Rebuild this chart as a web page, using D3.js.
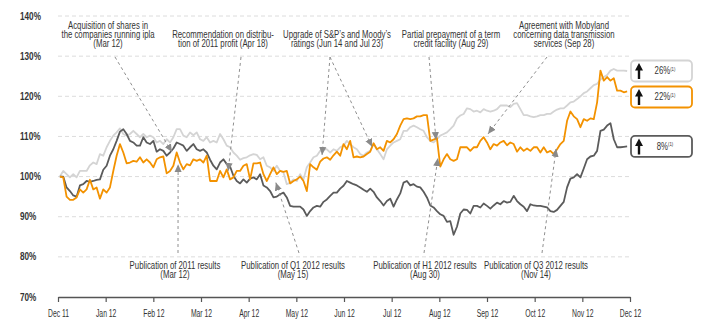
<!DOCTYPE html>
<html>
<head>
<meta charset="utf-8">
<script src="https://cdn.jsdelivr.net/npm/d3@7"></script>
<style>
  body { margin: 0; background: #fff; }
  svg text { font-family: "Liberation Sans", Arial, sans-serif; fill: #333; }
</style>
</head>
<body>
<svg width="707" height="333"></svg>
<script>
const monthLabels = ['Dec 11', 'Jan 12', 'Feb 12', 'Mar 12', 'Apr 12', 'May 12', 'Jun 12',
  'Jul 12', 'Aug 12', 'Sep 12', 'Oct 12', 'Nov 12', 'Dec 12'];
const yTicks = [70, 80, 90, 100, 110, 120, 130, 140];

// sampling: first point and step, in months after Dec 11
const startMonth = 0.04;
const stepMonth = 0.07;

// light gray series (index, 100 = start)
const wigValues = [
  100, 101.4, 100.6, 99.8, 100.6, 99.8, 101.4, 101.4, 101.4, 102.8,
  103.5, 103.1, 105.6, 105.2, 107.3, 108.9, 110.2, 111, 112, 110.6,
  110.2, 110.6, 111.4, 110.6, 109.8, 110.6, 109.8, 110.2, 109.8, 108.5,
  108.9, 108.1, 109.3, 108.5, 109.8, 111.8, 111.8, 110.2, 109.8, 111,
  110.3, 111, 109.3, 108.9, 109.8, 108.5, 108.9, 108.5, 110.6, 109.3,
  107.7, 107.3, 106, 105.2, 104.2, 104.6, 104.8, 105.3, 105.6, 105.4,
  104.3, 104.8, 102.7, 102.3, 101.4, 102.7, 101.4, 101, 98.1, 98.5,
  99.3, 98.9, 100.6, 99.3, 102.3, 103.5, 104.8, 105.2, 106.4, 106.8,
  106.8, 106, 106.8, 106.4, 107.3, 107.7, 108.9, 108.1, 107.3, 106.8,
  105.6, 105.2, 106, 106.4, 108.1, 106.8, 105.6, 104.3, 106.8, 107.7,
  108.5, 108.9, 109.3, 111.4, 111.4, 112.3, 112.7, 112.3, 111.8, 111.4,
  109.8, 108.9, 108.5, 109.3, 110.2, 110.6, 111, 111.8, 112.7, 114.5,
  115.2, 115.6, 117, 116.8, 116.2, 116.4, 116, 116.8, 116.4, 116.2,
  116.4, 116.8, 117.7, 117.7, 117.7, 117.3, 118.1, 118.3, 116.8, 115.3,
  115.3, 115, 114.8, 115, 115.3, 115.3, 115.6, 115.6, 116.2, 116.7,
  117, 117, 117.7, 118.5, 118.7, 119.3, 120, 120.8, 121.2, 122,
  122.8, 123.1, 124.2, 124.8, 125.3, 126.4, 126.8, 126.4, 126.4, 126.4, 126.3
];

// orange series
const polsatValues = [
  100, 99.8, 95, 94.2, 94.2, 94.8, 96.8, 96, 96.8, 99.2,
  96.8, 97.3, 94.5, 96.8, 96, 97.3, 101.4, 105.2, 108.1, 106,
  103.3, 103.5, 103.9, 103.7, 104.8, 103.5, 104.3, 103.5, 102.3, 104.3,
  104.8, 105, 100.8, 101.4, 102.7, 106, 103.5, 101.8, 103.1, 102.8,
  104.3, 103.9, 104.3, 103.5, 105.2, 98.9, 98.9, 98.9, 101.4, 99.8,
  101.8, 99.3, 99.8, 101.4, 101.4, 102.7, 103.1, 99.3, 103.3, 103.3,
  103.5, 100.6, 98.9, 100.6, 102.3, 100.6, 101.4, 101.2, 101.4, 98.3,
  98.9, 99.3, 100, 98.9, 96.4, 103.1, 102.3, 101.7, 103.7, 104.5,
  104.8, 104.2, 105.3, 106.2, 105.2, 108.1, 106.8, 108.9, 104.8, 105,
  104.8, 105, 105.6, 106.2, 108.3, 106.8, 107.3, 106.4, 108.9, 108.5,
  109.3, 110.6, 112.7, 114.3, 114.5, 114.3, 114.5, 115, 115, 115.3,
  115.3, 108.9, 109.2, 109.6, 102.5, 104.3, 105.6, 104.3, 103.9, 104.3,
  107.3, 107.3, 107.3, 106.4, 107.3, 107.3, 108.9, 109.8, 108.5, 106.8,
  108.1, 107.7, 108.5, 108.9, 107.8, 108.5, 108.1, 106.2, 107.3, 106.4,
  107, 106.4, 107.3, 107.3, 106, 107.3, 106, 106.4, 105.6, 106.8,
  108.1, 108.9, 113.9, 116.2, 115, 114.3, 112.3, 114.3, 113.9, 114.5,
  114.3, 118.5, 126.4, 123.9, 124.8, 123.9, 124.5, 121.4, 121.4, 121, 121.2
];

// dark gray series
const mediaValues = [
  100, 100, 97.3, 96.4, 95.3, 95, 97.8, 98.1, 98.9, 98.7,
  98.9, 99.2, 99.3, 101.7, 102.7, 105.2, 106.8, 108.9, 111.2, 111.8,
  110.6, 108.9, 108.5, 107.7, 107.7, 109.8, 108.5, 108.1, 108.9, 106.2,
  106.8, 106.4, 105.2, 106, 107, 108.5, 108.1, 107.7, 106.4, 107.3,
  108.1, 106.8, 106.4, 106.8, 106, 104.2, 102.7, 101.8, 103.5, 104.3,
  103.1, 102.5, 100.2, 98.9, 98.3, 99.3, 98.5, 99.5, 99.8, 99.3,
  100.6, 97.8, 97.3, 96.4, 94.8, 95, 95.6, 96, 94.8, 92.7,
  92.5, 92.5, 92.5, 91.8, 90.2, 91.4, 92.3, 92.7, 92.5, 93.7,
  94.3, 95.2, 96, 96, 97, 97.7, 98.9, 98.5, 98.1, 97.8,
  97.3, 96.7, 96.2, 97, 96.2, 94.8, 93.9, 92.8, 93.9, 94.5,
  92.5, 94.3, 95.8, 98.5, 98.9, 97.8, 98.1, 97.5, 97.3, 96.2,
  94.8, 92.8, 92.3, 91.4, 90.6, 90.2, 88.7, 88.9, 85.5, 87.5,
  90.8, 91.8, 91.7, 90.8, 92.7, 92.7, 92.3, 93.3, 92.7, 92,
  92.8, 93.5, 93.1, 93.9, 93.5, 93.7, 95.2, 93.9, 93.1, 92.5,
  91.4, 93.1, 92.8, 92.7, 92.7, 92.5, 92.3, 91.4, 91.2, 91.7,
  92.7, 93.7, 97.3, 99.5, 99.8, 100.6, 99.8, 102, 104.3, 105,
  105.2, 106.4, 111.4, 111.7, 112.7, 113.3, 109.3, 107.3, 107.3, 107.4, 107.5
];

const seriesNames = ['wig', 'mediaIndex', 'polsat'];
const seriesColors = ['#d4d4d4', '#5b5b5b', '#f39200'];
const seriesChanges = [26, 8, 22];
const allSeries = [wigValues, mediaValues, polsatValues];

// events: label lines, where the dashed leader starts, and the point it marks (month, value)
const topNotes = [
  {lines: ['Acquisition of shares in', 'the companies running ipla', '(Mar 12)'], tx: 108, from: [115, 57], to: [[2.39, 106.1]]},
  {lines: ['Recommendation on distribu-', 'tion of 2011 profit (Apr 18)'], tx: 223, from: [241, 57], to: [[3.57, 101.4]]},
  {lines: ['Upgrade of S&P’s and Moody’s', 'ratings (Jun 14 and Jul 23)'], tx: 337, from: [330, 57], to: [[5.54, 105.4], [6.59, 107.4]]},
  {lines: ['Partial prepayment of a term', 'credit facility (Aug 29)'], tx: 451, from: [429, 57], to: [[7.93, 109.1]]},
  {lines: ['Agreement with Mobyland', 'concerning data transmission', 'services (Sep 28)'], tx: 564, from: [547, 57], to: [[9.02, 110.6]]}
];
const bottomNotes = [
  {lines: ['Publication of 2011 results', '(Mar 12)'], tx: 175, from: [178, 253], to: [[2.52, 103.1]]},
  {lines: ['Publication of Q1 2012 results', '(May 15)'], tx: 293, from: [299, 253], to: [[4.57, 98.5]]},
  {lines: ['Publication of H1 2012 results', '(Aug 30)'], tx: 425, from: [424, 253], to: [[7.97, 104.6]]},
  {lines: ['Publication of Q3 2012 results', '(Nov 14)'], tx: 536, from: [542, 253], to: [[10.45, 106.9]]}
];

// the original uses a condensed face; squeeze the installed sans horizontally
const narrow = 0.78;

const svg = d3.select('svg');
const x = d3.scaleLinear().domain([0, 12]).range([58, 630]);
const y = d3.scaleLinear().domain([70, 140]).range([297, 16]);

// grid
svg.append('g')
  .selectAll('line')
  .data(yTicks.filter((t) => t > 70))
  .enter()
  .append('line')
  .attr('x1', x(0))
  .attr('x2', x(12))
  .attr('y1', (d) => y(d))
  .attr('y2', (d) => y(d))
  .style('stroke', '#dcdcdc')
  .style('stroke-dasharray', '4,3');

svg.append('g')
  .selectAll('text')
  .data(yTicks)
  .enter()
  .append('text')
  .attr('transform', (d) => `translate(20,${y(d)}) scale(0.82,1)`)
  .attr('dy', '0.35em')
  .attr('font-size', 10)
  .attr('font-weight', 'bold')
  .text((d) => d + '%');

// x axis
const xAxis = svg.append('g')
  .attr('transform', `translate(0,${y(70)})`)
  .call(
    d3.axisBottom(x)
      .tickValues(d3.range(13))
      .tickFormat((i) => monthLabels[i])
      .tickSize(5)
      .tickSizeOuter(0)
      .tickPadding(8)
  );
xAxis.select('.domain').style('stroke', '#555').style('stroke-width', 1.5);
xAxis.selectAll('.tick line').style('stroke', '#555').style('stroke-width', 1.2);
xAxis.selectAll('.tick text')
  .attr('font-family', null)
  .attr('font-size', 10)
  .attr('transform', 'scale(0.68,1)');

// arrow marker
svg.append('defs')
  .append('marker')
  .attr('id', 'tip')
  .attr('viewBox', '-8 -4 8 8')
  .attr('refX', 0)
  .attr('refY', 0)
  .attr('markerWidth', 8)
  .attr('markerHeight', 8)
  .attr('markerUnits', 'userSpaceOnUse')
  .attr('orient', 'auto')
  .append('path')
  .attr('d', 'M0,0L-8,-3.6L-8,3.6Z')
  .style('fill', '#8a8a8a');

// lines
const line = d3.line()
  .x((d, i) => x(startMonth + i * stepMonth))
  .y((d) => y(d));

svg.append('g')
  .selectAll('path')
  .data(allSeries)
  .enter()
  .append('path')
  .attr('d', line)
  .attr('class', (d, i) => seriesNames[i])
  .style('fill', 'none')
  .style('stroke', (d, i) => seriesColors[i])
  .style('stroke-width', 1.8)
  .style('stroke-linejoin', 'round');

// annotations
const notes = topNotes.map((n) => ({...n, top: true}))
  .concat(bottomNotes.map((n) => ({...n, top: false})));

const leaders = notes.flatMap((n) => n.to.map((t) => ({from: n.from, to: t})));
svg.append('g')
  .selectAll('line')
  .data(leaders)
  .enter()
  .append('line')
  .attr('x1', (d) => d.from[0])
  .attr('y1', (d) => d.from[1])
  .attr('x2', (d) => x(d.to[0]))
  .attr('y2', (d) => y(d.to[1]))
  .style('stroke', '#8f8f8f')
  .style('stroke-dasharray', '3,3')
  .attr('marker-end', 'url(#tip)');

const noteText = svg.append('g')
  .selectAll('text')
  .data(notes)
  .enter()
  .append('text')
  .attr('transform', (n) => `translate(${n.tx},0) scale(${narrow},1)`)
  .attr('text-anchor', 'middle')
  .attr('font-size', 10);

noteText.selectAll('tspan')
  .data((n) => n.lines.map((l, i) => ({
    text: l,
    y: n.top ? 47 - (n.lines.length - 1 - i) * 9 : 269.5 + i * 9
  })))
  .enter()
  .append('tspan')
  .attr('x', 0)
  .attr('y', (d) => d.y)
  .text((d) => d.text);

// change boxes at the right, stacked from the last values
const boxH = 21;
const boxes = allSeries
  .map((vals, i) => ({i, cy: y(vals[vals.length - 1])}))
  .sort((a, b) => a.cy - b.cy);
boxes.forEach((b, j) => {
  if (j > 0) b.cy = Math.max(b.cy, boxes[j - 1].cy + boxH + 5);
});

const box = svg.append('g')
  .selectAll('g')
  .data(boxes)
  .enter()
  .append('g')
  .attr('transform', (d) => `translate(631,${d.cy - boxH / 2})`);

box.append('rect')
  .attr('width', 61)
  .attr('height', boxH)
  .attr('rx', 4)
  .style('fill', '#fff')
  .style('stroke', (d) => seriesColors[d.i])
  .style('stroke-width', 1.8);

box.append('path')
  .attr('d', 'M8,2.5L12,10L9.2,10L9.2,18.5L6.8,18.5L6.8,10L4,10Z')
  .style('fill', '#111');

const boxText = box.append('text')
  .attr('transform', `translate(34,14) scale(${narrow},1)`)
  .attr('text-anchor', 'middle')
  .attr('font-size', 10)
  .text((d) => seriesChanges[d.i] + '%');

boxText.append('tspan')
  .attr('dy', -4)
  .attr('font-size', 5.5)
  .text('(1)');
</script>
</body>
</html>
